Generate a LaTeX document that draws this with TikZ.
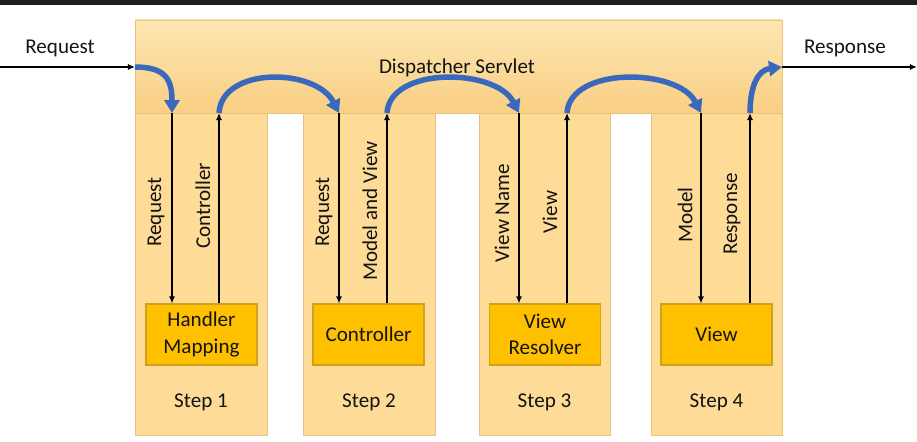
\documentclass[tikz,border=0pt]{standalone}
\usepackage{fontspec}
\setmainfont{Carlito}
\usetikzlibrary{arrows.meta}
\definecolor{colfill}{HTML}{FEDB96}
\definecolor{coledge}{HTML}{E6C47E}
\definecolor{bantop}{HTML}{FDE6B2}
\definecolor{banbot}{HTML}{F9CF84}
\definecolor{unitfill}{HTML}{FFC000}
\definecolor{unitedge}{HTML}{CFA11E}
\definecolor{hopblue}{HTML}{3A68BC}
\definecolor{inktext}{HTML}{141414}
\tikzset{
  column/.style={fill=colfill, draw=coledge, line width=0.4pt},
  unit/.style={draw=unitedge, fill=unitfill, line width=0.6pt, minimum width=2.22cm, minimum height=1.22cm, inner sep=0pt, align=center, text=inktext},
  flow/.style={-{Latex[length=4pt,width=3.5pt]}, line width=0.8pt, draw=black},
  hop/.style={draw=hopblue, line width=1.1mm, line cap=butt, -{Triangle[length=0.26cm,width=0.3cm]}},
  vlabel/.style={rotate=90, text=inktext, inner sep=0pt},
  plain/.style={text=inktext, inner sep=0pt},
}

\begin{document}
\begin{tikzpicture}[x=0.02cm, y=-0.02cm, font=\fontsize{12}{15}\selectfont]
		%%%%% START %%%%%
		\useasboundingbox (0, 0) rectangle (917, 442);
		\fill[fill=black!88] (0, 0) rectangle (917, 5);
		
		% columns
		\draw[column] (135, 113) rectangle (267, 435);
		\draw[column] (303, 113) rectangle (435, 435);
		\draw[column] (479, 113) rectangle (610, 435);
		\draw[column] (651, 113) rectangle (782, 435);
		
		% servlet banner
		\shade[top color=bantop, bottom color=banbot] (135, 20) rectangle (782, 113);
		\draw[coledge, line width=0.5pt] (135, 20) rectangle (782, 113);
		\node[plain] (servlet) at (457, 68) {Dispatcher Servlet};
		
		% units
		\node[unit] (hm) at (201.5, 334.5) {Handler\\Mapping};
		\node[unit] (ctrl) at (368.5, 334.5) {Controller};
		\node[unit] (vr) at (545, 334.5) {View\\Resolver};
		\node[unit] (view) at (716.5, 334.5) {View};
		
		\node[plain] (s1) at (201, 402) {Step 1};
		\node[plain] (s2) at (369, 402) {Step 2};
		\node[plain] (s3) at (544.5, 402) {Step 3};
		\node[plain] (s4) at (716.5, 402) {Step 4};
		
		% ends on the banner
		\coordinate (d1) at (172, 113);
		\coordinate (u1) at (219, 113);
		\coordinate (d2) at (339, 113);
		\coordinate (u2) at (387, 113);
		\coordinate (d3) at (519, 113);
		\coordinate (u3) at (567, 113);
		\coordinate (d4) at (701, 113);
		\coordinate (u4) at (750, 113);
		\coordinate (inL) at (135, 67);
		\coordinate (outR) at (782, 67);
		\coordinate (farL) at (0, 67);
		\coordinate (farR) at (917, 67);
		
		% black flows
		\draw[flow] (d1) -- (d1 |- hm.north);
		\draw[flow] (u1 |- hm.north) -- (u1);
		\draw[flow] (d2) -- (d2 |- ctrl.north);
		\draw[flow] (u2 |- ctrl.north) -- (u2);
		\draw[flow] (d3) -- (d3 |- vr.north);
		\draw[flow] (u3 |- vr.north) -- (u3);
		\draw[flow] (d4) -- (d4 |- view.north);
		\draw[flow] (u4 |- view.north) -- (u4);
		\draw[flow] (farL) -- (inL);
		\draw[flow] (outR) -- (farR);
		
		\node[vlabel] (l1) at (156, 212) {Request};
		\node[vlabel] (l2) at (203, 206) {Controller};
		\node[vlabel] (l3) at (324, 212) {Request};
		\node[vlabel] (l4) at (370, 211) {Model and View};
		\node[vlabel] (l5) at (502, 213) {View Name};
		\node[vlabel] (l6) at (550, 212) {View};
		\node[vlabel] (l7) at (685, 215) {Model};
		\node[vlabel] (l8) at (732, 214) {Response};
		
		\node[plain] (req) at (60, 48) {Request};
		\node[plain] (resp) at (845, 48) {Response};
		
		% blue hops
		\draw[hop] (inL) .. controls (166, 67) and (172, 80) .. (d1);
		\draw[hop] (u1) .. controls (222, 66) and (316, 68) .. (d2);
		\draw[hop] (u2) .. controls (390, 66) and (496, 68) .. (d3);
		\draw[hop] (u3) .. controls (570, 66) and (678, 68) .. (d4);
		\draw[hop] (u4) .. controls (750, 86) and (758, 70) .. (outR);
		
		%%%%% END %%%%%
	\end{tikzpicture}
\end{document}
